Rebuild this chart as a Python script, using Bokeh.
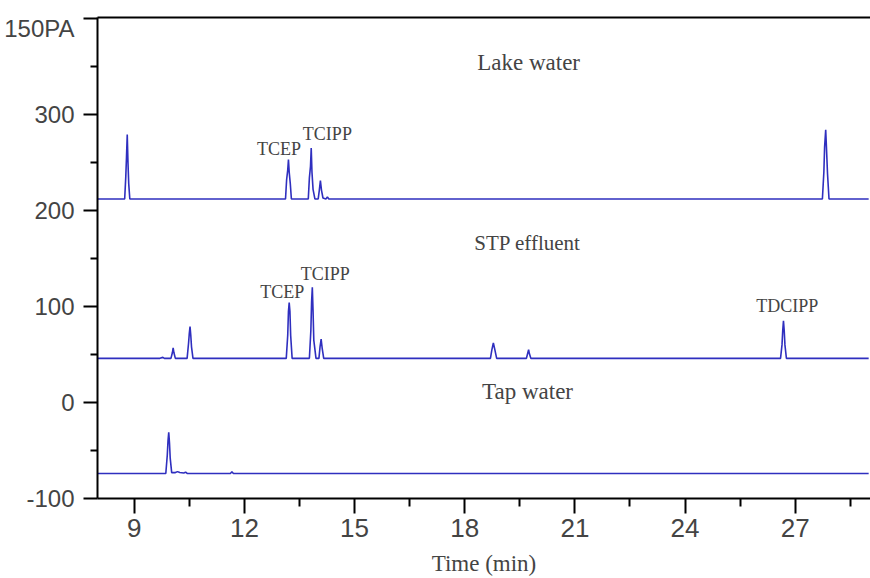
from bokeh.plotting import figure
from bokeh.models import LinearAxis, FixedTicker, Label, Range1d
from bokeh.embed import file_html
from bokeh.resources import INLINE

# ---- data ----
lake_time = [8.00, 8.74, 8.77, 8.79, 8.81, 8.83, 8.85, 8.88, 13.12, 13.15, 13.18, 13.20, 13.22, 13.25, 13.28,
             13.74, 13.77, 13.80, 13.82, 13.84, 13.87, 13.92, 14.01, 14.04, 14.07, 14.10, 14.14, 14.22, 14.26,
             14.30, 27.74, 27.78, 27.80, 27.83, 27.85, 27.88, 27.92, 29.00]
lake_signal = [212, 212, 235, 256, 279, 250, 228, 212, 212, 232, 242, 253, 240, 228, 212,
               212, 234, 246, 265, 240, 222, 212, 212, 221, 231, 221, 213, 212, 214,
               212, 212, 240, 266, 284, 266, 238, 212, 212]

stp_time = [8.00, 9.70, 9.78, 9.82, 9.90, 10.00, 10.04, 10.06, 10.08, 10.12, 10.44, 10.48, 10.50, 10.52,
            10.54, 10.56, 10.60, 13.14, 13.18, 13.20, 13.22, 13.24, 13.26, 13.30, 13.77, 13.81, 13.83,
            13.85, 13.87, 13.89, 13.95, 14.03, 14.06, 14.09, 14.12, 14.16, 18.70, 18.74, 18.78, 18.82,
            18.87, 19.68, 19.72, 19.74, 19.76, 19.80, 26.60, 26.64, 26.66, 26.68, 26.70, 26.72, 26.76, 29.00]
stp_signal = [46, 46, 47, 46, 46, 46, 52, 57, 52, 46, 46, 62, 72, 79,
              70, 58, 46, 46, 70, 95, 104, 95, 70, 46, 46, 75, 105,
              120, 95, 65, 46, 46, 58, 66, 56, 46, 46, 55, 62, 55,
              46, 46, 52, 55, 51, 46, 46, 60, 75, 85, 75, 60, 46, 46]

tap_time = [8.00, 9.86, 9.90, 9.92, 9.94, 9.96, 9.98, 10.02, 10.12, 10.18, 10.24, 10.35, 10.40, 10.45,
            11.62, 11.66, 11.70, 29.00]
tap_signal = [-74, -74, -55, -40, -31, -42, -58, -73, -73, -72, -73, -73.5, -72.5, -74,
              -74, -72, -74, -74]

trace_names = ["Lake water", "STP effluent", "Tap water"]
peak_names = ["TCEP", "TCIPP", "TCEP", "TCIPP", "TDCIPP"]
x_ticks = [9, 12, 15, 18, 21, 24, 27]
x_minor = [10.5, 13.5, 16.5, 19.5, 22.5, 25.5, 28.5]
y_ticks = [-100, 0, 100, 200, 300, 400]
y_minor = [-50, 50, 150, 250, 350]
y_label_ticks = [-100, 0, 100, 200, 300, 390]
y_unit_label = "150PA"

BLUE = "#2f2fbf"
SANS = "Liberation Sans"
SERIF = "Liberation Serif"

p = figure(width=870, height=578, output_backend="svg", toolbar_location=None,
           x_range=Range1d(8.0, 29.05), y_range=Range1d(-100, 401),
           min_border_left=97, min_border_right=0, min_border_top=17, min_border_bottom=80,
           x_axis_label="Time (min)")
p.outline_line_color = None
p.grid.visible = False
p.background_fill_color = "white"
p.border_fill_color = "white"

for t, s in [(lake_time, lake_signal), (stp_time, stp_signal), (tap_time, tap_signal)]:
    p.line(t, s, line_color=BLUE, line_width=1.6)

# x axis
xa = p.xaxis[0]
xa.ticker = FixedTicker(ticks=x_ticks, minor_ticks=x_minor)
xa.axis_line_width = 2
xa.major_tick_line_width = 2
xa.minor_tick_line_width = 2
xa.major_tick_out = 15
xa.major_tick_in = 0
xa.minor_tick_out = 8
xa.minor_tick_in = 0
xa.major_label_text_font = SANS
xa.major_label_text_font_size = "26px"
xa.major_label_standoff = 5
xa.axis_label_text_font = SERIF
xa.axis_label_text_font_style = "normal"
xa.axis_label_text_font_size = "23px"
xa.axis_label_standoff = 11

# y axis: line + ticks only (labels blanked)
ya = p.yaxis[0]
ya.ticker = FixedTicker(ticks=y_ticks, minor_ticks=y_minor)
ya.axis_line_width = 2
ya.major_tick_line_width = 2
ya.minor_tick_line_width = 2
ya.major_tick_out = 14
ya.major_tick_in = 0
ya.minor_tick_out = 7
ya.minor_tick_in = 0
ya.major_label_overrides = {t: "" for t in y_ticks}
ya.major_label_standoff = 0

# y axis labels (outer axis without line/ticks)
yb = LinearAxis(ticker=FixedTicker(ticks=y_label_ticks, minor_ticks=[]),
                axis_line_color=None, major_tick_line_color=None, minor_tick_line_color=None,
                major_tick_out=0, major_tick_in=0, minor_tick_out=0, minor_tick_in=0,
                major_label_overrides={390: y_unit_label, -100: "-100"},
                major_label_text_font=SANS, major_label_text_font_size="24px",
                major_label_standoff=9)
p.add_layout(yb, "left")

top = LinearAxis(ticker=FixedTicker(ticks=[]), axis_line_width=2,
                 major_tick_out=0, major_tick_in=0, minor_tick_out=0, minor_tick_in=0,
                 major_label_standoff=0)
p.add_layout(top, "above")

# trace names
for name, (lx, ly), fs in zip(trace_names, [(19.74, 354), (19.71, 166), (19.71, 11)], ["23px", "21px", "23px"]):
    p.add_layout(Label(x=lx, y=ly, text=name, text_align="center", text_baseline="middle",
                       text_font=SERIF, text_font_size=fs))

# peak names
for name, (lx, ly) in zip(peak_names, [(12.94, 264.5), (14.26, 280), (13.03, 115), (14.2, 133.6), (26.78, 100.3)]):
    p.add_layout(Label(x=lx, y=ly, text=name, text_align="center", text_baseline="middle",
                       text_font=SERIF, text_font_size="18px"))

open("out.html", "w").write(file_html(p, INLINE))
